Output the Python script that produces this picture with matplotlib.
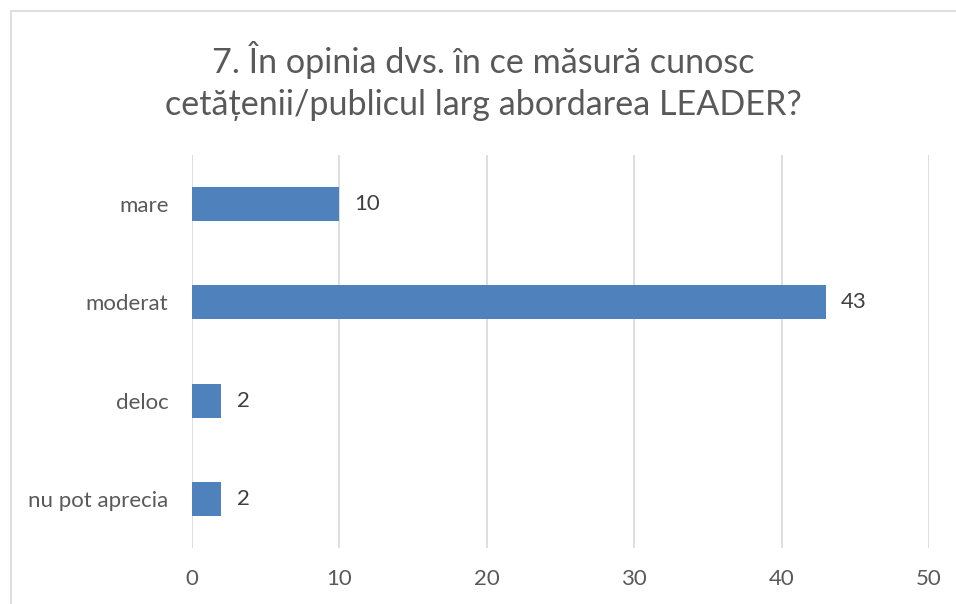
import matplotlib
matplotlib.use("Agg")
import matplotlib.pyplot as plt
from matplotlib.patches import Rectangle

categories = ["mare", "moderat", "deloc", "nu pot aprecia"]
values = [10, 43, 2, 2]
xticks = [0, 10, 20, 30, 40, 50]
title = "7. În opinia dvs. în ce măsură cunosc\ncetățenii/publicul larg abordarea LEADER?"

plt.rcParams['font.family'] = ['Lato', 'DejaVu Sans']

W, H = 956, 604
fig = plt.figure(figsize=(W/100, H/100), dpi=100)
fig.patch.set_facecolor("white")

# chart frame
fig.add_artist(Rectangle((11/W, -0.2), 1.2, 1 - 11/H + 0.2, transform=fig.transFigure,
                         fill=False, edgecolor="#D9D9D9", linewidth=1.2))

ax = fig.add_axes([192/W, 1 - 548/H, (929-192)/W, (548-155)/H])
ypos = list(range(len(categories)))
ax.barh(ypos, values, height=0.345, color="#4F81BD", zorder=3)
ax.set_ylim(len(categories) - 0.5, -0.5)
ax.set_xlim(0, 50)
ax.set_xticks(xticks)
ax.set_xticklabels([str(t) for t in xticks], fontsize=16, color="#595959")
ax.set_yticks(ypos)
ax.set_yticklabels(categories, fontsize=16, color="#595959")
ax.tick_params(axis='both', length=0)
ax.tick_params(axis='x', pad=15)
ax.tick_params(axis='y', pad=17)
ax.grid(axis='x', color="#D9D9D9", linewidth=1.2, zorder=0)
for s in ax.spines.values():
    s.set_visible(False)

for y, v in zip(ypos, values):
    ax.annotate(str(v), (v, y), xytext=(11, 0), textcoords="offset points",
                va="center", ha="left", fontsize=16, color="#404040")

fig.text(0.5 + 5/W, 1 - 81/H, title, ha="center", va="center", fontsize=24.6,
         color="#595959", linespacing=1.35)

fig.savefig("out.png", dpi=100)
